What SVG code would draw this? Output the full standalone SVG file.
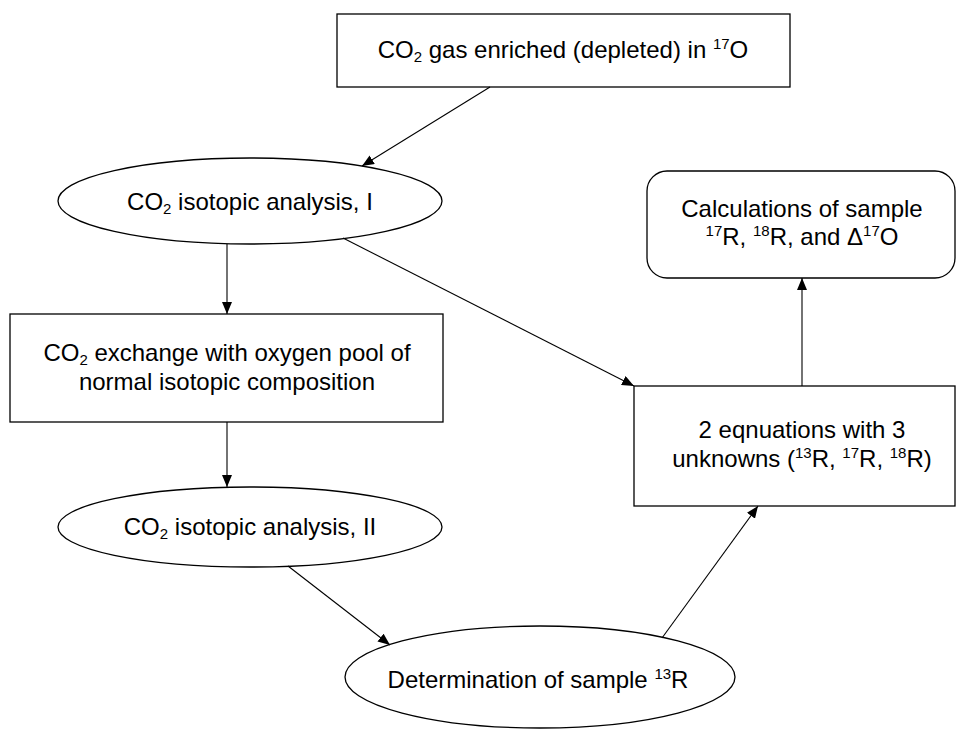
<svg xmlns="http://www.w3.org/2000/svg" width="957" height="729" viewBox="0 0 957 729">
<defs>
<style>
.n{fill:#fff;stroke:#000;stroke-width:1.3}
.t{font-family:"Liberation Sans",Arial,sans-serif;font-size:24px;fill:#000;text-anchor:middle}
.s{font-size:15px}
.c{stroke:#000;stroke-width:1.1;fill:none;marker-end:url(#ah)}
</style>
<marker id="ah" viewBox="0 0 12 10" refX="12" refY="5" markerWidth="12" markerHeight="10" markerUnits="userSpaceOnUse" orient="auto">
<path d="M0,0 L12,5 L0,10 Z" fill="#000"/>
</marker>
</defs>
<rect width="957" height="729" fill="#fff"/>
<g id="n1">
<rect class="n" x="337" y="14" width="453" height="73"/>
<text class="t" x="563" y="58">CO<tspan class="s" dy="4">2</tspan><tspan dy="-4"> gas enriched (depleted) in </tspan><tspan class="s" dy="-9">17</tspan><tspan dy="9">O</tspan></text>
</g>
<g id="n2">
<ellipse class="n" cx="250" cy="201" rx="192" ry="43"/>
<text class="t" x="250" y="210">CO<tspan class="s" dy="4">2</tspan><tspan dy="-4"> isotopic analysis, I</tspan></text>
</g>
<g id="n3">
<rect class="n" x="10" y="314" width="433" height="108"/>
<text class="t" x="227" y="361">CO<tspan class="s" dy="4">2</tspan><tspan dy="-4"> exchange with oxygen pool of</tspan></text>
<text class="t" x="227" y="390">normal isotopic composition</text>
</g>
<g id="n4">
<ellipse class="n" cx="250" cy="527" rx="192" ry="40"/>
<text class="t" x="250" y="535">CO<tspan class="s" dy="4">2</tspan><tspan dy="-4"> isotopic analysis, II</tspan></text>
</g>
<g id="n5">
<ellipse class="n" cx="540" cy="677" rx="195" ry="51"/>
<text class="t" x="538" y="688">Determination of sample <tspan class="s" dy="-9">13</tspan><tspan dy="9">R</tspan></text>
</g>
<g id="n6">
<rect class="n" x="634" y="386" width="321" height="120"/>
<text class="t" x="802" y="438">2 eqnuations with 3</text>
<text class="t" x="802" y="467">unknowns (<tspan class="s" dy="-9">13</tspan><tspan dy="9">R, </tspan><tspan class="s" dy="-9">17</tspan><tspan dy="9">R, </tspan><tspan class="s" dy="-9">18</tspan><tspan dy="9">R)</tspan></text>
</g>
<g id="n7">
<rect class="n" x="647" y="171" width="308" height="107" rx="20" ry="20"/>
<text class="t" x="802" y="217">Calculations of sample</text>
<text class="t" x="802" y="245"><tspan class="s" dy="-9">17</tspan><tspan dy="9">R, </tspan><tspan class="s" dy="-9">18</tspan><tspan dy="9">R, and Δ</tspan><tspan class="s" dy="-9">17</tspan><tspan dy="9">O</tspan></text>
</g>
<g id="connectors">
<line class="c" x1="490" y1="87" x2="362" y2="166"/>
<line class="c" x1="227" y1="244" x2="227" y2="314"/>
<line class="c" x1="227" y1="422" x2="227" y2="487"/>
<line class="c" x1="343" y1="238" x2="634" y2="386"/>
<line class="c" x1="288" y1="566" x2="390" y2="645"/>
<line class="c" x1="662" y1="638" x2="758" y2="506"/>
<line class="c" x1="802" y1="386" x2="802" y2="278"/>
</g>
</svg>
